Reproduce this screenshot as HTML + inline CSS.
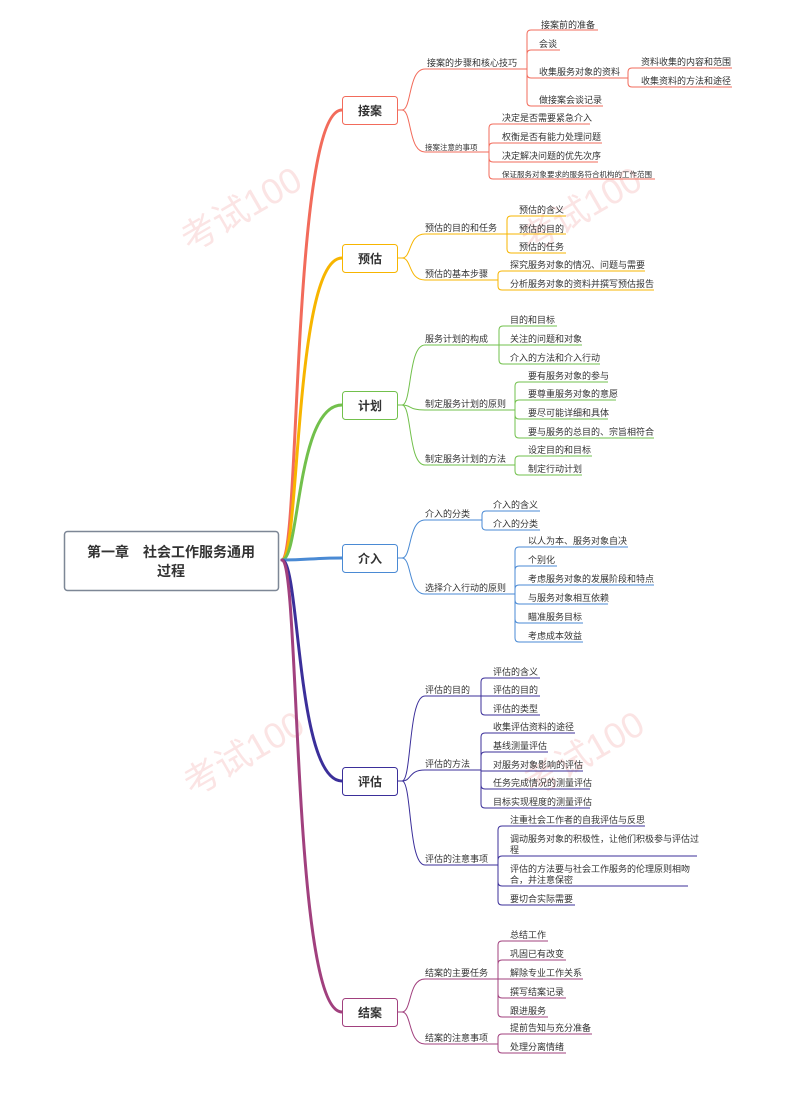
<!DOCTYPE html>
<html><head><meta charset="utf-8"><style>
html,body{margin:0;padding:0;background:#fff;}
svg{display:block;}
text{font-family:"Liberation Sans","Noto Sans CJK SC",sans-serif;fill:#333;}
.s{font-size:9px;}
.xs{font-size:7.5px;}
.m{font-size:12px;font-weight:bold;fill:#333;}
</style></head><body>
<svg width="795" height="1098" viewBox="0 0 795 1098" xmlns="http://www.w3.org/2000/svg">
<!-- watermarks -->
<g opacity="0.13" fill="#d33">
<text x="180" y="245" transform="rotate(-30 200 230)" style="font-size:36px;fill:#d33">考试100</text>
<text x="520" y="245" transform="rotate(-30 540 230)" style="font-size:36px;fill:#d33">考试100</text>
<text x="180" y="790" transform="rotate(-30 200 770)" style="font-size:36px;fill:#d33">考试100</text>
<text x="520" y="790" transform="rotate(-30 540 770)" style="font-size:36px;fill:#d33">考试100</text>
</g>

<!-- root branches -->
<g fill="none" stroke-width="3" stroke-linecap="round">
<path d="M282,560 C300,560 292,110 342,110" stroke="#f26b5b"/>
<path d="M282,560 C300,560 294,258 342,258" stroke="#f7b500"/>
<path d="M282,560 C300,560 296,405 342,405" stroke="#72c04c"/>
<path d="M282,560 C310,560 310,558 342,558" stroke="#4a8ad4"/>
<path d="M282,560 C300,560 296,781 342,781" stroke="#3b2f9a"/>
<path d="M282,560 C300,560 292,1012 342,1012" stroke="#a1407e"/>
</g>

<!-- root -->
<rect x="64.5" y="531.5" width="214" height="59" rx="3" fill="#fff" stroke="#7d8796" stroke-width="1.5"/>
<text x="171" y="557" text-anchor="middle" style="font-size:14px;font-weight:bold;fill:#333">第一章　社会工作服务通用</text>
<text x="171" y="576" text-anchor="middle" style="font-size:14px;font-weight:bold;fill:#333">过程</text>

<!-- ===== 接案 ===== -->
<g fill="none" stroke="#f26b5b" stroke-width="1">
<path d="M397,110 L402,110 C412,110 408,69 425,69 L527,69"/>
<path d="M397,110 L402,110 C412,110 408,152 425,152 L489,152"/>
<path d="M527,69 L527,34 Q527,30 531,30 L598,30 M527,69 L527,54 Q527,50 531,50 L560,50 M527,69 L527,74 Q527,78 531,78 L628,78 M527,69 L527,102 Q527,106 531,106 L603,106"/>
<path d="M628,78 L628,72 Q628,68 632,68 L732,68 M628,78 L628,83 Q628,87 632,87 L732,87"/>
<path d="M489,152 L489,128 Q489,124 493,124 L590,124 M489,152 L489,147 Q489,143 493,143 L602,143 M489,152 L489,158 Q489,162 493,162 L598,162 M489,152 L489,175 Q489,179 493,179 L655,179"/>
</g>
<rect x="342.5" y="96.5" width="55" height="28" rx="3" fill="#fff" stroke="#f26b5b"/>
<text x="370" y="115" text-anchor="middle" class="m">接案</text>
<text x="427" y="66" class="s">接案的步骤和核心技巧</text>
<text x="425" y="150" class="xs">接案注意的事项</text>
<text x="541" y="28" class="s">接案前的准备</text>
<text x="539" y="47" class="s">会谈</text>
<text x="539" y="75" class="s">收集服务对象的资料</text>
<text x="539" y="103" class="s">做接案会谈记录</text>
<text x="641" y="65" class="s">资料收集的内容和范围</text>
<text x="641" y="84" class="s">收集资料的方法和途径</text>
<text x="502" y="121" class="s">决定是否需要紧急介入</text>
<text x="502" y="140" class="s">权衡是否有能力处理问题</text>
<text x="502" y="159" class="s">决定解决问题的优先次序</text>
<text x="502" y="177" class="xs">保证服务对象要求的服务符合机构的工作范围</text>

<!-- ===== 预估 ===== -->
<g fill="none" stroke="#f7b500" stroke-width="1">
<path d="M397,258 L402,258 C412,258 408,234 425,234 L507,234"/>
<path d="M397,258 L402,258 C412,258 408,280 425,280 L498,280"/>
<path d="M507,234 L507,220 Q507,216 511,216 L566,216 M507,234 L566,234 M507,234 L507,249 Q507,253 511,253 L566,253"/>
<path d="M498,280 L498,275 Q498,271 502,271 L645,271 M498,280 L498,286 Q498,290 502,290 L654,290"/>
</g>
<rect x="342.5" y="244.5" width="55" height="28" rx="3" fill="#fff" stroke="#f7b500"/>
<text x="370" y="263" text-anchor="middle" class="m">预估</text>
<text x="425" y="231" class="s">预估的目的和任务</text>
<text x="425" y="277" class="s">预估的基本步骤</text>
<text x="519" y="213" class="s">预估的含义</text>
<text x="519" y="232" class="s">预估的目的</text>
<text x="519" y="250" class="s">预估的任务</text>
<text x="510" y="268" class="s">探究服务对象的情况、问题与需要</text>
<text x="510" y="287" class="s">分析服务对象的资料并撰写预估报告</text>

<!-- ===== 计划 ===== -->
<g fill="none" stroke="#72c04c" stroke-width="1">
<path d="M397,405 L402,405 C412,405 408,345 425,345 L499,345"/>
<path d="M397,405 L402,405 C412,405 408,410 425,410 L515,410"/>
<path d="M397,405 L402,405 C412,405 408,465 425,465 L515,465"/>
<path d="M499,345 L499,330 Q499,326 503,326 L557,326 M499,345 L582,345 M499,345 L499,360 Q499,364 503,364 L600,364"/>
<path d="M515,410 L515,386 Q515,382 519,382 L608,382 M515,410 L515,404 Q515,400 519,400 L616,400 M515,410 L515,415 Q515,419 519,419 L608,419 M515,410 L515,434 Q515,438 519,438 L654,438"/>
<path d="M515,465 L515,460 Q515,456 519,456 L592,456 M515,465 L515,471 Q515,475 519,475 L582,475"/>
</g>
<rect x="342.5" y="391.5" width="55" height="28" rx="3" fill="#fff" stroke="#72c04c"/>
<text x="370" y="410" text-anchor="middle" class="m">计划</text>
<text x="425" y="342" class="s">服务计划的构成</text>
<text x="425" y="407" class="s">制定服务计划的原则</text>
<text x="425" y="462" class="s">制定服务计划的方法</text>
<text x="510" y="323" class="s">目的和目标</text>
<text x="510" y="342" class="s">关注的问题和对象</text>
<text x="510" y="361" class="s">介入的方法和介入行动</text>
<text x="528" y="379" class="s">要有服务对象的参与</text>
<text x="528" y="397" class="s">要尊重服务对象的意愿</text>
<text x="528" y="416" class="s">要尽可能详细和具体</text>
<text x="528" y="435" class="s">要与服务的总目的、宗旨相符合</text>
<text x="528" y="453" class="s">设定目的和目标</text>
<text x="528" y="472" class="s">制定行动计划</text>

<!-- ===== 介入 ===== -->
<g fill="none" stroke="#4a8ad4" stroke-width="1">
<path d="M397,558 L402,558 C412,558 408,520 425,520 L482,520"/>
<path d="M397,558 L402,558 C412,558 408,594 425,594 L515,594"/>
<path d="M482,520 L482,515 Q482,511 486,511 L540,511 M482,520 L482,526 Q482,530 486,530 L540,530"/>
<path d="M515,594 L515,551 Q515,547 519,547 L628,547 M515,594 L515,570 Q515,566 519,566 L557,566 M515,594 L515,589 Q515,585 519,585 L654,585 M515,594 L515,600 Q515,604 519,604 L608,604 M515,594 L515,619 Q515,623 519,623 L583,623 M515,594 L515,638 Q515,642 519,642 L583,642"/>
</g>
<rect x="342.5" y="544.5" width="55" height="28" rx="3" fill="#fff" stroke="#4a8ad4"/>
<text x="370" y="563" text-anchor="middle" class="m">介入</text>
<text x="425" y="517" class="s">介入的分类</text>
<text x="425" y="591" class="s">选择介入行动的原则</text>
<text x="493" y="508" class="s">介入的含义</text>
<text x="493" y="527" class="s">介入的分类</text>
<text x="528" y="544" class="s">以人为本、服务对象自决</text>
<text x="528" y="563" class="s">个别化</text>
<text x="528" y="582" class="s">考虑服务对象的发展阶段和特点</text>
<text x="528" y="601" class="s">与服务对象相互依赖</text>
<text x="528" y="620" class="s">瞄准服务目标</text>
<text x="528" y="639" class="s">考虑成本效益</text>

<!-- ===== 评估 ===== -->
<g fill="none" stroke="#3b2f9a" stroke-width="1">
<path d="M397,781 L402,781 C412,781 408,696 425,696 L481,696"/>
<path d="M397,781 L402,781 C412,781 408,770 425,770 L481,770"/>
<path d="M397,781 L402,781 C412,781 408,865 425,865 L498,865"/>
<path d="M481,696 L481,682 Q481,678 485,678 L540,678 M481,696 L540,696 M481,696 L481,711 Q481,715 485,715 L540,715"/>
<path d="M481,770 L481,737 Q481,733 485,733 L575,733 M481,770 L481,756 Q481,752 485,752 L548,752 M481,770 L481,771 L583,771 M481,770 L481,785 Q481,789 485,789 L590,789 M481,770 L481,804 Q481,808 485,808 L590,808"/>
<path d="M498,865 L498,830 Q498,826 502,826 L645,826 M498,865 L498,860 Q498,856 502,856 L697,856 M498,865 L498,882 Q498,886 502,886 L688,886 M498,865 L498,901 Q498,905 502,905 L575,905"/>
</g>
<rect x="342.5" y="767.5" width="55" height="28" rx="3" fill="#fff" stroke="#3b2f9a"/>
<text x="370" y="786" text-anchor="middle" class="m">评估</text>
<text x="425" y="693" class="s">评估的目的</text>
<text x="425" y="767" class="s">评估的方法</text>
<text x="425" y="862" class="s">评估的注意事项</text>
<text x="493" y="675" class="s">评估的含义</text>
<text x="493" y="693" class="s">评估的目的</text>
<text x="493" y="712" class="s">评估的类型</text>
<text x="493" y="730" class="s">收集评估资料的途径</text>
<text x="493" y="749" class="s">基线测量评估</text>
<text x="493" y="768" class="s">对服务对象影响的评估</text>
<text x="493" y="786" class="s">任务完成情况的测量评估</text>
<text x="493" y="805" class="s">目标实现程度的测量评估</text>
<text x="510" y="823" class="s">注重社会工作者的自我评估与反思</text>
<text x="510" y="842" class="s">调动服务对象的积极性，让他们积极参与评估过</text>
<text x="510" y="853" class="s">程</text>
<text x="510" y="872" class="s">评估的方法要与社会工作服务的伦理原则相吻</text>
<text x="510" y="883" class="s">合，并注意保密</text>
<text x="510" y="902" class="s">要切合实际需要</text>

<!-- ===== 结案 ===== -->
<g fill="none" stroke="#a1407e" stroke-width="1">
<path d="M397,1012 L402,1012 C412,1012 408,979 425,979 L498,979"/>
<path d="M397,1012 L402,1012 C412,1012 408,1044 425,1044 L498,1044"/>
<path d="M498,979 L498,945 Q498,941 502,941 L548,941 M498,979 L498,964 Q498,960 502,960 L566,960 M498,979 L583,979 M498,979 L498,994 Q498,998 502,998 L566,998 M498,979 L498,1013 Q498,1017 502,1017 L548,1017"/>
<path d="M498,1044 L498,1038 Q498,1034 502,1034 L592,1034 M498,1044 L498,1049 Q498,1053 502,1053 L566,1053"/>
</g>
<rect x="342.5" y="998.5" width="55" height="28" rx="3" fill="#fff" stroke="#a1407e"/>
<text x="370" y="1017" text-anchor="middle" class="m">结案</text>
<text x="425" y="976" class="s">结案的主要任务</text>
<text x="425" y="1041" class="s">结案的注意事项</text>
<text x="510" y="938" class="s">总结工作</text>
<text x="510" y="957" class="s">巩固已有改变</text>
<text x="510" y="976" class="s">解除专业工作关系</text>
<text x="510" y="995" class="s">撰写结案记录</text>
<text x="510" y="1014" class="s">跟进服务</text>
<text x="510" y="1031" class="s">提前告知与充分准备</text>
<text x="510" y="1050" class="s">处理分离情绪</text>
</svg>
</body></html>
